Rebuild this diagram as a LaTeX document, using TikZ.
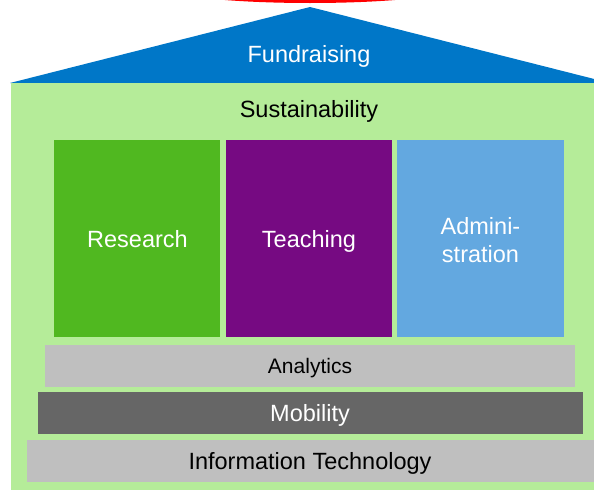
\documentclass[tikz,border=0pt]{standalone}
\usepackage{fontspec}
\setmainfont{Liberation Sans}
\definecolor{roofblue}{RGB}{0,119,200}
\definecolor{lightgreen}{RGB}{181,236,153}
\definecolor{researchgreen}{RGB}{80,184,32}
\definecolor{teachpurple}{RGB}{118,10,130}
\definecolor{adminblue}{RGB}{99,168,224}
\definecolor{lightgray}{RGB}{191,191,191}
\definecolor{darkgray}{RGB}{102,102,102}
\begin{document}
\begin{tikzpicture}[x=1pt,y=-1pt,
  block/.style={rectangle, draw=none, inner sep=0pt, outer sep=0pt},
  lbl/.style={anchor=base, inner sep=0pt, font=\fontsize{23.5}{28}\selectfont},
  smalllbl/.style={anchor=base, inner sep=0pt, font=\fontsize{21}{25}\selectfont}]
\useasboundingbox (0,0) rectangle (594,490);
\clip (0,0) rectangle (594,490);
% red arc at the top
\draw[red, line width=3pt] (310,-15.5) ellipse [x radius=150pt, y radius=17pt];
% roof
\fill[roofblue] (10,83) -- (310,7) -- (610,83) -- cycle;
% body
\fill[lightgreen] (11,83) rectangle (609,490);
% pillars
\node[block, fill=researchgreen, minimum width=166pt, minimum height=197pt] (research) at (137,238.5) {};
\node[block, fill=teachpurple, minimum width=166pt, minimum height=197pt] (teaching) at (309,238.5) {};
\node[block, fill=adminblue, minimum width=167pt, minimum height=197pt] (admin) at (480.5,238.5) {};
% layers
\node[block, fill=lightgray, minimum width=530pt, minimum height=42pt] (analytics) at (310,366) {};
\node[block, fill=darkgray, minimum width=545pt, minimum height=42pt] (mobility) at (310.5,413) {};
\node[block, fill=lightgray, minimum width=568pt, minimum height=42pt] (it) at (311,461) {};
% labels
\node[lbl, text=white] (tfund) at (309,62) {Fundraising};
\node[lbl, text=black] (tsust) at (309,117) {Sustainability};
\node[lbl, text=white] (tres) at (137.5,247.5) {Research};
\node[lbl, text=white] (tteach) at (309,247.5) {Teaching};
\node[lbl, text=white] (tadm1) at (480.5,234) {Admini-};
\node[lbl, text=white] (tadm2) at (480.5,262) {stration};
\node[smalllbl, text=black] (tana) at (310,373.5) {Analytics};
\node[lbl, text=white] (tmob) at (310,421.5) {Mobility};
\node[lbl, text=black] (tit) at (310,469.5) {Information Technology};
\end{tikzpicture}
\end{document}
